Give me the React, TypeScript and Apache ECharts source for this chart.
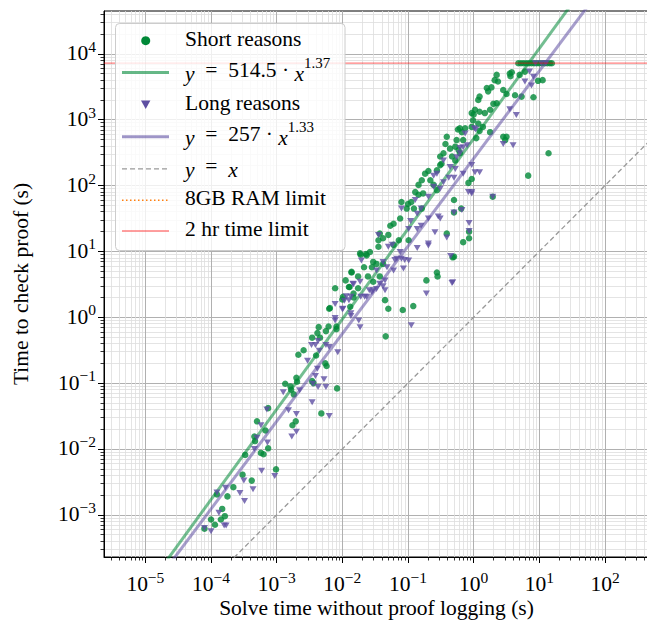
import React, { useEffect, useRef } from 'react';
import * as echarts from 'echarts';

// Axis extents in log10(seconds)
const xLimitsLog: [number, number] = [-5.63, 2.67];
const yLimitsLog: [number, number] = [-3.64, 4.65];
const xMajorExponents = [-5, -4, -3, -2, -1, 0, 1, 2];
const yMajorExponents = [-3, -2, -1, 0, 1, 2, 3, 4];
const minorMultipliers = [2, 3, 4, 5, 6, 7, 8, 9];

const shortFit = { coef: 514.5, power: 1.37 };
const longFit = { coef: 257, power: 1.33 };
const timeLimitSeconds = 7200;

// [log10(solve time s), log10(check time s)]
const shortReasons: [number, number][] = [
  [-4.10, -3.21], [-4.00, -3.07], [-3.94, -3.15], [-3.85, -3.07], [-3.83, -2.91], [-3.79, -3.02], [-3.91, -2.69], [-3.75, -2.72],
  [-3.66, -2.58], [-3.52, -2.39], [-3.38, -2.48], [-3.48, -2.09], [-3.34, -1.81], [-3.30, -1.58], [-3.33, -1.88], [-3.17, -1.72],
  [-3.24, -2.06], [-3.20, -2.08], [-3.13, -1.99], [-3.13, -1.38], [-3.01, -2.31], [-2.87, -1.01], [-2.79, -1.05], [-2.78, -1.10],
  [-2.74, -1.17], [-2.70, -0.92], [-2.69, -0.98], [-2.76, -1.64], [-2.71, -1.58], [-2.67, -0.57], [-2.59, -0.50], [-2.46, -0.31],
  [-2.40, -0.58], [-2.34, -0.31], [-2.38, -0.24], [-2.36, -0.15], [-2.25, -0.21], [-2.21, -0.14], [-2.26, -0.70], [-2.24, -0.74],
  [-2.32, -1.46], [-2.44, -1.00], [-2.46, -0.97], [-2.09, -0.18], [-2.08, -1.08], [-2.11, 0.44], [-2.20, 0.13], [-2.00, 0.27],
  [-1.95, 0.56], [-1.90, 0.46], [-1.86, 0.68], [-1.76, 0.44], [-1.88, 0.16], [-1.83, 0.30], [-2.19, 0.14], [-2.09, -0.14],
  [-1.34, -0.29], [-1.08, 0.11], [-0.92, 0.17], [-1.30, 0.13], [-1.35, 0.26], [-1.72, 0.95], [-1.64, 0.96], [-1.67, 0.76],
  [-1.58, 0.99], [-1.73, 0.97], [-1.63, 0.94], [-1.45, 1.07], [-1.53, 0.84], [-1.48, 0.81], [-1.55, 0.76], [-1.38, 0.81],
  [-1.86, 0.69], [-1.76, 0.62], [-1.61, 0.62], [-1.53, 0.54], [-1.43, 0.62], [-1.89, 0.46], [-1.83, 0.36], [-1.99, 0.31],
  [-0.72, 0.56], [-0.56, 0.68], [-0.55, 0.62], [-0.41, 1.27], [-0.32, 0.91], [-0.30, 0.92], [-0.16, 1.14], [-0.07, 1.20],
  [-0.07, 1.30], [-0.30, 1.59], [-0.30, 1.78], [-0.19, 1.65], [-0.08, 2.04], [-0.03, 2.10], [0.29, 1.83],
  [-1.12, 1.50], [-1.22, 1.42], [-1.27, 1.39], [-1.30, 1.25], [-1.43, 1.27], [-1.45, 1.17], [-1.14, 1.17], [-0.99, 1.17],
  [-1.38, 1.20], [-1.22, 1.10],
  [-0.95, 1.75], [-1.00, 1.72], [-1.10, 1.75], [-1.02, 1.65], [-0.91, 1.65], [-0.79, 1.65], [-0.77, 1.88], [-0.84, 1.86],
  [-0.89, 1.90], [-0.56, 1.93], [-0.61, 2.01], [-0.66, 2.08], [-0.84, 2.01], [-0.79, 2.08], [-0.74, 2.18], [-0.69, 2.22],
  [-0.56, 2.23], [-0.51, 2.31], [-0.49, 2.33], [-0.28, 2.38], [-0.33, 2.44], [-0.51, 2.44], [-0.46, 2.49], [-0.21, 2.49],
  [-0.36, 2.56], [-0.43, 2.63], [-0.23, 2.54], [-0.28, 2.59], [-0.16, 2.69], [-0.26, 2.69], [-0.41, 2.74], [0.25, 2.81],
  [0.04, 2.72], [0.09, 2.83], [-0.24, 2.85], [-0.18, 2.81], [-0.21, 2.87], [-0.13, 2.87], [-0.03, 2.89], [0.14, 2.89],
  [0.07, 2.94], [-0.01, 2.99], [0.17, 3.10], [0.09, 3.12], [0.00, 3.08], [-0.03, 3.10], [0.02, 3.15], [0.25, 3.15],
  [0.30, 3.24], [0.35, 3.25], [0.78, 3.73], [0.70, 3.68], [0.58, 3.72], [0.56, 3.66], [0.55, 3.70], [0.07, 3.30],
  [0.09, 3.35], [0.22, 3.43], [0.20, 3.48], [0.27, 3.49], [0.37, 3.58], [0.32, 3.60], [0.35, 3.68], [0.45, 3.45],
  [0.50, 3.39], [0.63, 3.37], [0.73, 3.35], [0.91, 3.34], [0.98, 3.59], [1.05, 3.60], [0.83, 2.15], [1.14, 2.49],
  [0.45, 2.74], [0.50, 2.74], [0.48, 2.69],
  [0.68, 3.857], [0.72, 3.857], [0.76, 3.857], [0.80, 3.857], [0.84, 3.857], [0.88, 3.857], [0.92, 3.857],
  [0.96, 3.857], [1.00, 3.857], [1.04, 3.857], [1.08, 3.857], [1.12, 3.857], [1.16, 3.857], [1.19, 3.857],
];

const longReasons: [number, number][] = [
  [-4.10, -3.20], [-4.00, -3.25], [-3.88, -2.97], [-3.80, -3.16], [-3.77, -3.16], [-3.78, -2.59], [-3.91, -2.66], [-3.56, -2.67],
  [-3.49, -2.79], [-3.36, -2.61], [-3.50, -2.48], [-3.34, -2.00], [-3.30, -1.83], [-3.24, -1.64], [-3.14, -1.90], [-3.15, -1.40],
  [-3.23, -2.33], [-3.03, -2.41], [-2.90, -1.14], [-2.82, -1.41], [-2.77, -1.81], [-2.70, -1.74], [-2.70, -1.47], [-2.65, -1.11],
  [-2.46, -1.29], [-2.45, -1.01], [-2.41, -0.89], [-2.38, -0.78], [-2.37, -1.06], [-2.28, -0.94], [-2.25, -1.06], [-2.20, -1.50],
  [-2.35, -0.51], [-2.47, -0.42], [-2.41, -0.42], [-2.53, -0.66], [-2.37, -0.36], [-2.25, -0.42], [-2.20, -0.45], [-2.07, -0.53],
  [-2.11, -0.05], [-2.11, 0.20], [-2.00, 0.12], [-1.97, 0.25], [-1.90, 0.26], [-1.87, 0.02], [-1.83, 0.50], [-1.75, -0.05],
  [-2.11, -0.01], [-1.73, -0.15], [-1.87, 0.06], [-1.99, 0.13], [-1.87, 0.31], [-1.72, 0.31], [-1.59, 0.41], [-1.53, 0.41],
  [-1.38, 0.47], [-1.35, 0.56], [-1.48, 0.71], [-1.20, 0.87], [-1.05, 0.87], [-1.12, 0.99], [-0.95, -0.12], [-0.72, 0.36],
  [-0.32, 0.53], [-0.07, 1.43], [-0.07, 1.31], [-0.03, 1.88],
  [0.45, 2.63], [0.60, 2.61], [0.65, 3.07], [0.55, 3.16], [0.88, 3.52], [0.91, 3.65], [0.85, 3.73], [0.78, 3.58],
  [0.29, 1.83], [0.03, 2.85], [0.01, 2.87], [-0.13, 2.79], [-0.21, 2.57], [-0.03, 2.31], [0.02, 2.20], [0.09, 2.20],
  [-0.08, 1.90], [-0.03, 1.90], [-0.18, 1.63], [-0.30, 1.59], [-0.41, 1.21], [-0.35, 0.93], [-0.33, 0.52], [-0.59, 1.29],
  [-0.69, 1.12], [-0.54, 1.53], [-0.51, 1.50], [-0.69, 1.50], [-0.80, 1.65], [-0.86, 1.57], [-0.80, 1.39], [-0.86, 1.34],
  [-0.99, 1.34], [-0.96, 1.46], [-1.10, 1.65], [-0.89, 1.78], [-0.69, 1.83], [-0.61, 1.98], [-0.51, 1.95], [-0.46, 2.05],
  [-0.38, 2.12], [-0.30, 2.12], [-0.28, 2.25], [-0.36, 2.28], [-0.46, 2.38], [-0.16, 2.18], [-0.26, 2.43], [-0.21, 2.49],
  [-0.10, 2.61], [-0.16, 2.58], [-0.61, 2.15], [-0.56, 2.18], [-1.24, 1.10], [-1.30, 1.07], [-1.17, 0.89], [-1.10, 0.89],
  [-0.99, 0.86], [-1.38, 0.84], [-1.32, 0.76], [-1.22, 0.71], [-1.07, 0.74], [-1.43, 0.51], [-1.35, 0.41], [-1.48, 0.43],
  [-1.55, 0.38], [-1.63, 0.31], [-1.84, 0.51], [-1.73, 0.54], [-1.71, 0.86], [-1.45, 1.25], [-1.66, 0.31], [-1.94, 0.32],
  [-0.86, 1.05], [-0.69, 1.09],
  [0.94, 3.857], [1.03, 3.857], [1.10, 3.857],
];

const EN = '\u2002';
const legendLabels = [
  'Short reasons',
  `{it|y}${EN}=${EN}514.5 · {it|x}{sup|1.37}`,
  'Long reasons',
  `{it|y}${EN}=${EN}257 · {it|x}{sup|1.33}`,
  `{it|y}${EN}=${EN}{it|x}`,
  '8GB RAM limit',
  '2 hr time limit',
];

const FONT = '"Liberation Serif", "Times New Roman", serif';
const GREEN = '#008837';
const PURPLE = '#5e4fa2';

function minorValues(lim: [number, number]): number[] {
  const out: number[] = [];
  for (let e = Math.floor(lim[0]); e <= Math.ceil(lim[1]); e++) {
    for (const k of minorMultipliers) {
      const v = e + Math.log10(k);
      if (v > lim[0] && v < lim[1]) out.push(v);
    }
  }
  return out;
}

function expLabel(v: number): string {
  const n = Math.round(v);
  const s = n < 0 ? '\u2212' + Math.abs(n) : String(n);
  return `{b|10}{s|${s}}`;
}

const tickRich = {
  b: { fontFamily: FONT, fontSize: 21.5, lineHeight: 26, verticalAlign: 'bottom', color: '#000' },
  s: { fontFamily: FONT, fontSize: 15.5, lineHeight: 14, verticalAlign: 'top', color: '#000' },
};

function fitLine(fit: { coef: number; power: number }): [number, number][] {
  const a = Math.log10(fit.coef);
  return [
    [xLimitsLog[0], a + fit.power * xLimitsLog[0]],
    [xLimitsLog[1], a + fit.power * xLimitsLog[1]],
  ];
}

function buildLegend(): any[] {
  const rowsY = [40.7, 72.5, 104.5, 136.7, 168.8, 200.3, 231.0];
  const hx0 = 122, hx1 = 169, hxc = 145.7, tx = 185;
  const legendRich = {
    it: { fontFamily: FONT, fontSize: 21.5, fontStyle: 'italic', lineHeight: 30, verticalAlign: 'bottom' },
    sup: { fontFamily: FONT, fontSize: 15, lineHeight: 20, verticalAlign: 'top' },
    n: { fontFamily: FONT, fontSize: 21.5, lineHeight: 30, verticalAlign: 'bottom' },
  };
  const els: any[] = [
    {
      type: 'rect',
      shape: { x: 115.5, y: 23.5, width: 229.5, height: 227, r: 4 },
      style: { fill: 'rgba(255,255,255,0.8)', stroke: '#cccccc', lineWidth: 1 },
      z: 100,
    },
    { type: 'circle', shape: { cx: hxc, cy: rowsY[0], r: 4.5 }, style: { fill: GREEN }, z: 101 },
    { type: 'line', shape: { x1: hx0, y1: rowsY[1], x2: hx1, y2: rowsY[1] }, style: { stroke: GREEN, lineWidth: 3, opacity: 0.6 }, z: 101 },
    {
      type: 'polygon',
      shape: { points: [[141, rowsY[2] - 4], [150.4, rowsY[2] - 4], [145.7, rowsY[2] + 4.5]] },
      style: { fill: PURPLE }, z: 101,
    },
    { type: 'line', shape: { x1: hx0, y1: rowsY[3], x2: hx1, y2: rowsY[3] }, style: { stroke: PURPLE, lineWidth: 3, opacity: 0.6 }, z: 101 },
    { type: 'line', shape: { x1: hx0, y1: rowsY[4], x2: hx1, y2: rowsY[4] }, style: { stroke: '#999999', lineWidth: 1.3, lineDash: [5, 3] }, z: 101 },
    { type: 'line', shape: { x1: hx0, y1: rowsY[5], x2: hx1, y2: rowsY[5] }, style: { stroke: '#ff7f0e', lineWidth: 1.5, lineDash: [1.5, 2.5] }, z: 101 },
    { type: 'line', shape: { x1: hx0, y1: rowsY[6], x2: hx1, y2: rowsY[6] }, style: { stroke: 'rgba(255,0,0,0.5)', lineWidth: 1.3 }, z: 101 },
  ];
  legendLabels.forEach((label, i) => {
    const isMath = label.indexOf('{it|') >= 0;
    els.push({
      type: 'text',
      z: 102,
      style: {
        x: tx,
        y: rowsY[i] + (isMath ? -2.5 : -6),
        text: isMath ? label : `{n|${label}}`,
        rich: legendRich,
        fill: '#000',
        font: `21.5px ${FONT}`,
        verticalAlign: 'middle',
        align: 'left',
      },
    });
  });
  return els;
}

export default function App() {
  const ref = useRef<HTMLDivElement>(null);
  useEffect(() => {
    if (!ref.current) return;
    const chart = echarts.init(ref.current, null, { renderer: 'svg' });
    const xMinor = minorValues(xLimitsLog);
    const yMinor = minorValues(yLimitsLog);
    const axisNameStyle = { fontFamily: FONT, fontSize: 21.5, color: '#000' };
    const tLog = Math.log10(timeLimitSeconds);

    const option: any = {
      animation: false,
      backgroundColor: '#fff',
      grid: {
        left: 104, top: 11, width: 545, height: 546,
        show: true, borderColor: '#000', borderWidth: 1, backgroundColor: 'transparent',
        containLabel: false, outerBoundsMode: 'none',
      },
      xAxis: [
        {
          type: 'value', min: xLimitsLog[0], max: xLimitsLog[1], position: 'bottom',
          axisLine: { show: true, onZero: false, lineStyle: { color: '#000', width: 1 } },
          axisTick: { show: true, customValues: xMajorExponents, length: 6, lineStyle: { color: '#000', width: 1 } },
          axisLabel: { show: true, customValues: xMajorExponents, formatter: expLabel, rich: tickRich, margin: 12, color: '#000' },
          splitLine: { show: true, lineStyle: { color: '#b0b0b0', width: 1 } },
          name: 'Solve time without proof logging (s)', nameLocation: 'middle', nameGap: 40,
          nameTextStyle: axisNameStyle, nameMoveOverlap: false,
        },
        {
          type: 'value', min: xLimitsLog[0], max: xLimitsLog[1], position: 'bottom',
          axisLine: { show: false, onZero: false },
          axisTick: { show: true, customValues: xMinor, length: 3.5, lineStyle: { color: '#000', width: 0.8 } },
          axisLabel: { show: false },
          splitLine: { show: true, lineStyle: { color: '#dddddd', width: 0.8 } },
        },
      ],
      yAxis: [
        {
          type: 'value', min: yLimitsLog[0], max: yLimitsLog[1], position: 'left',
          axisLine: { show: true, onZero: false, lineStyle: { color: '#000', width: 1 } },
          axisTick: { show: true, customValues: yMajorExponents, length: 6, lineStyle: { color: '#000', width: 1 } },
          axisLabel: {
            show: true, customValues: yMajorExponents, formatter: expLabel, rich: tickRich, margin: 8, color: '#000',
            padding: [0, 0, 5, 0],
          },
          splitLine: { show: true, lineStyle: { color: '#b0b0b0', width: 1 } },
          name: 'Time to check proof (s)', nameLocation: 'middle', nameGap: 72,
          nameTextStyle: axisNameStyle, nameMoveOverlap: false,
        },
        {
          type: 'value', min: yLimitsLog[0], max: yLimitsLog[1], position: 'left',
          axisLine: { show: false, onZero: false },
          axisTick: { show: true, customValues: yMinor, length: 3.5, lineStyle: { color: '#000', width: 0.8 } },
          axisLabel: { show: false },
          splitLine: { show: true, lineStyle: { color: '#dddddd', width: 0.8 } },
        },
      ],
      series: [
        {
          name: 'Short reasons', type: 'scatter', data: shortReasons, symbol: 'circle', symbolSize: 6.5,
          itemStyle: { color: GREEN }, silent: true, z: 3,
        },
        {
          name: 'Short fit', type: 'line', data: fitLine(shortFit), symbol: 'none', clip: true,
          lineStyle: { color: GREEN, width: 3, opacity: 0.55 }, silent: true, z: 4,
        },
        {
          name: 'Long reasons', type: 'scatter', data: longReasons, symbol: 'triangle', symbolRotate: 180,
          symbolSize: [7, 6], itemStyle: { color: PURPLE }, silent: true, z: 5,
        },
        {
          name: 'Long fit', type: 'line', data: fitLine(longFit), symbol: 'none', clip: true,
          lineStyle: { color: PURPLE, width: 3, opacity: 0.55 }, silent: true, z: 6,
        },
        {
          name: 'y = x', type: 'line', data: [[xLimitsLog[0], xLimitsLog[0]], [xLimitsLog[1], xLimitsLog[1]]],
          symbol: 'none', clip: true, lineStyle: { color: '#999999', width: 1.3, type: [5, 3] }, silent: true, z: 7,
        },
        {
          name: '2 hr time limit', type: 'line', data: [[xLimitsLog[0], tLog], [xLimitsLog[1], tLog]],
          symbol: 'none', clip: true, lineStyle: { color: 'rgba(255,0,0,0.5)', width: 1.3 }, silent: true, z: 7,
        },
      ],
      graphic: { elements: buildLegend() },
    };
    chart.setOption(option);
    return () => chart.dispose();
  }, []);
  return <div ref={ref} style={{ position: 'absolute', left: 0, top: 0, width: 647, height: 622, background: '#fff' }} />;
}
